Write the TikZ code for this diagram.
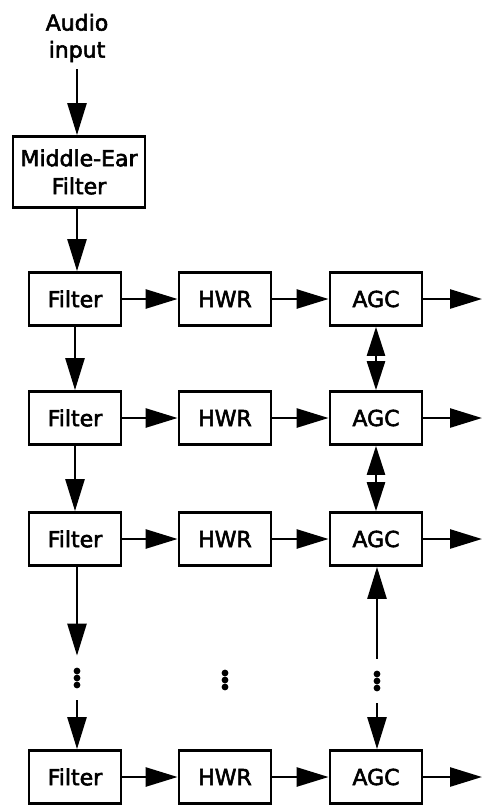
\documentclass[tikz,border=0pt]{standalone}
\usepackage{fontspec}
\setmainfont{DejaVu Sans}[FakeBold=2.5]
\usetikzlibrary{arrows.meta,positioning}
\tikzset{
  blk/.style={draw, line width=1.4pt, minimum width=46pt, minimum height=26.5pt,
              inner sep=2pt, font=\fontsize{11}{14}\selectfont},
  meblk/.style={blk, minimum width=66pt, minimum height=35.5pt, align=center},
  sig/.style={-{Triangle[length=16pt,width=9.5pt]}, line width=1.3pt},
  bsig/.style={{Triangle[length=14.5pt,width=9pt]}-{Triangle[length=14.5pt,width=9pt]}, line width=1.3pt},
  dotcol/.style={minimum width=8pt, minimum height=22pt, inner sep=0pt},
  lbl/.style={align=center, font=\fontsize{11}{13.5}\selectfont},
}

\begin{document}
\begin{tikzpicture}[x=0.5pt, y=-0.5pt]
  \useasboundingbox (0,0) rectangle (485,805);
  \node[lbl] (inp) at (77,38) {Audio\\input};
  \node[meblk] (me) at (79,172) {Middle-Ear\\Filter};
  \draw[sig] (inp) -- (inp |- me.north);
  % one channel per row
  \foreach \r/\y in {1/299,2/418,3/539,4/777} {
    \node[blk] (flt\r) at (75,\y) {Filter};
    \node[blk] (hwr\r) at (225,\y) {HWR};
    \node[blk] (agc\r) at (376,\y) {AGC};
    \coordinate (out\r) at (482,\y);
    \draw[sig] (flt\r) -- (hwr\r);
    \draw[sig] (hwr\r) -- (agc\r);
    \draw[sig] (agc\r) -- (out\r);
  }
  \node[dotcol] (fdots) at (77,678) {};
  \node[dotcol] (hdots) at (225,680) {};
  \node[dotcol] (adots) at (377,681) {};
  \foreach \n in {fdots,hdots,adots}
    \foreach \d in {-7,0,7}
      \fill (\n) ++(0,\d) circle (1.7pt);
  \draw[sig] (inp |- me.south) -- (inp |- flt1.north);
  \draw[sig] (flt1) -- (flt2);
  \draw[sig] (flt2) -- (flt3);
  \draw[sig] (fdots |- flt3.south) -- (fdots.north);
  \draw[sig] (fdots) -- (fdots |- flt4.north);
  \draw[bsig] (agc1) -- (agc2);
  \draw[bsig] (agc2) -- (agc3);
  \draw[sig] (adots) -- (adots |- agc3.south);
  \draw[sig] (adots) -- (adots |- agc4.north);
\end{tikzpicture}
\end{document}
